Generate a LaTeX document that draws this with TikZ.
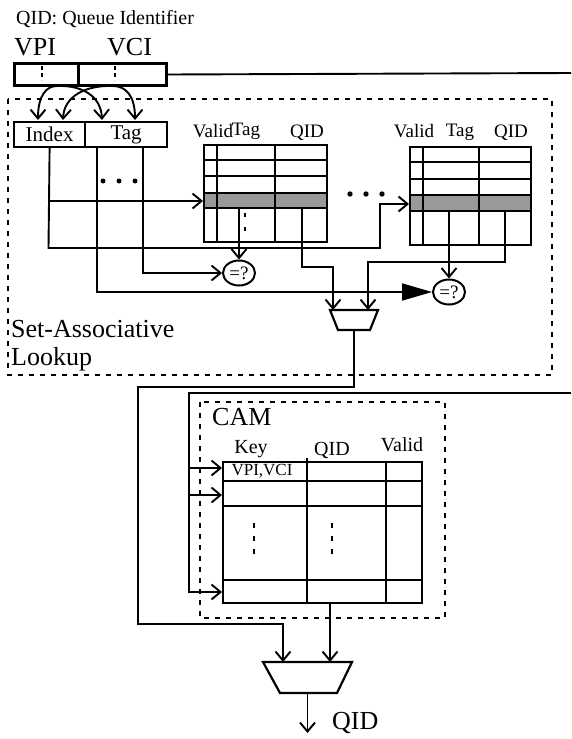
\documentclass[tikz,border=0pt]{standalone}
\usepackage{fontspec}
\setmainfont{Liberation Serif}
\usetikzlibrary{arrows.meta,shapes.geometric,calc}
\begin{document}
\begin{tikzpicture}[x=1pt,y=-1pt,
  wire/.style={line width=1.9pt},
  barb/.style={-{Straight Barb[length=9pt,width=15pt]}},
  tri/.style={-{Triangle[length=30pt,width=17pt]}},
  tblbox/.style={draw,line width=2.2pt,inner sep=0pt,anchor=north west},
  tline/.style={line width=2pt},
  shaded/.style={fill=black!40},
  reg/.style={draw,line width=3pt,inner sep=0pt,minimum height=22,anchor=north west},
  cellbox/.style={draw,line width=2.2pt,inner sep=0pt,minimum height=25,anchor=north west,font=\fontsize{21}{22}\selectfont},
  dbox/.style={line width=2pt,dash pattern=on 5pt off 6pt},
  big/.style={inner sep=0pt,anchor=base west,font=\fontsize{26}{28}\selectfont},
  hdr/.style={inner sep=0pt,anchor=base,font=\fontsize{19}{21}\selectfont},
  cmp/.style={ellipse,draw,line width=2pt,minimum width=32,minimum height=25,inner sep=0pt,font=\fontsize{19}{19}\selectfont},
  muxline/.style={line width=2.2pt,line join=miter}
]
\useasboundingbox (0,0) rectangle (571,739);

% ---------- title and register ----------
\node[inner sep=0pt,anchor=base west,font=\fontsize{20}{22}\selectfont] (title) at (16,24) {QID: Queue Identifier};
\node[big] (vpil) at (14,55) {VPI};
\node[big] (vcil) at (107,55) {VCI};
\node[reg,minimum width=64] (vpi) at (13,62) {};
\node[reg,minimum width=88] (vci) at (77,62) {};
\draw[line width=2pt,dash pattern=on 4pt off 3pt] (42,66) -- (42,80);
\draw[line width=2pt,dash pattern=on 4pt off 3pt] (115,66) -- (115,80);
\coordinate (regout) at (571,73);
\draw[wire] (vci.east) -- (regout);

% ---------- big dashed box ----------
\draw[dbox] (8,99) rectangle (552,375);
\node[big] (sal1) at (11,337) {Set-Associative};
\node[big] (sal2) at (11,365) {Lookup};

% ---------- index / tag ----------
\node[cellbox,minimum width=71] (index) at (13,121) {Index};
\node[cellbox,minimum width=82] (tag) at (84,121) {Tag};

\coordinate (s1) at (57,86);
\coordinate (s2) at (113,86);
\coordinate (e1) at (38,120);
\coordinate (e2) at (63,120);
\coordinate (e3) at (102,120);
\coordinate (e4) at (135,120);
\draw[wire,barb] (s1) .. controls (46,86) and (38,96) .. (e1);
\draw[wire,barb] (s1) .. controls (82,85) and (101,96) .. (e3);
\draw[wire,barb] (s2) .. controls (86,85) and (64,96) .. (e2);
\draw[wire,barb] (s2) .. controls (126,86) and (135,96) .. (e4);

% ---------- table 1 ----------
\fill[shaded] (203,193) rectangle (326,208);
\node[tblbox,minimum width=123,minimum height=97] (t1) at (203,144) {};
\foreach \yy in {160,176,193,208} \draw[tline] (203,\yy) -- (326,\yy);
\draw[tline] (217,144) -- (217,241);
\draw[tline] (275,144) -- (275,241);
\fill (243.5,213) rectangle (246,217);
\fill (243.5,227) rectangle (246,231);
\node[hdr] (h1v) at (213,137) {Valid};
\node[hdr] (h1t) at (246,135) {Tag};
\node[hdr] (h1q) at (307,137) {QID};

% ---------- table 2 ----------
\fill[shaded] (409,195) rectangle (530,211);
\node[tblbox,minimum width=121,minimum height=98] (t2) at (409,146) {};
\foreach \yy in {162,179,195,211} \draw[tline] (409,\yy) -- (530,\yy);
\draw[tline] (423,146) -- (423,244);
\draw[tline] (479,146) -- (479,244);
\node[hdr] (h2v) at (414,137) {Valid};
\node[hdr] (h2t) at (460,136) {Tag};
\node[hdr] (h2q) at (511,137) {QID};

% dots
\foreach \xx in {103,119,135} \fill (\xx,181) circle (2.5);
\foreach \xx in {350,366,382} \fill (\xx,194) circle (2.7);

% ---------- comparators and mux ----------
\node[cmp] (cmp1) at (239,273) {=?};
\node[cmp] (cmp2) at (449,292) {=?};
\coordinate (m1tl) at (330,310);
\coordinate (m1tr) at (378,310);
\coordinate (m1br) at (370,330);
\coordinate (m1bl) at (338,330);
\coordinate (m1out) at (354,330);
\draw[muxline] (m1tl) -- (m1tr) -- (m1br) -- (m1bl) -- cycle;

% ---------- connections in lookup ----------
\coordinate (ta) at (97,146);
\coordinate (tb) at (143,146);
\coordinate (t1row) at (203,201);
\coordinate (t2row) at (409,204);
\coordinate (t1t) at (239,208);
\coordinate (t1q) at (302,208);
\coordinate (t2t) at (449,211);
\coordinate (t2q) at (505,211);
\coordinate (m1a) at (333,310);
\coordinate (m1b) at (368,310);

\draw[wire,barb] (index.south) -- (48.5,248) -- (380,248) -- (380,204) -- (t2row);
\draw[wire,barb] (48.5,201) -- (t1row);
\draw[wire,barb] (tb) -- (143,273) -- (cmp1.west);
\draw[wire,tri] (ta) -- (97,292) -- (cmp2.west);
\draw[wire,barb] (t1t) -- (cmp1.north);
\draw[wire,barb] (t2t) -- (cmp2.north);
\draw[wire,barb] (t1q) -- (302,267) -- (333,267) -- (m1a);
\draw[wire,barb] (t2q) -- (505,262) -- (368,262) -- (m1b);

% ---------- CAM ----------
\draw[dbox] (200,402) rectangle (445,618);
\node[big] (camlbl) at (212,425) {CAM};
\node[tblbox,minimum width=199,minimum height=141] (cam) at (222,461) {};
\foreach \yy in {481,506,580} \draw[tline] (222,\yy) -- (421,\yy);
\draw[tline] (307,458) -- (307,602);
\draw[tline] (386,461) -- (386,602);
\node[inner sep=0pt,font=\fontsize{17}{18}\selectfont] (vv) at (262,471) {VPI,VCI};
\node[inner sep=0pt,anchor=base,font=\fontsize{20}{22}\selectfont] (ck) at (251,453) {Key};
\node[inner sep=0pt,anchor=base,font=\fontsize{20}{22}\selectfont] (cq) at (332,455) {QID};
\node[inner sep=0pt,anchor=base,font=\fontsize{20}{22}\selectfont] (cv) at (402,451) {Valid};
\foreach \xx in {254,332} {
  \fill (\xx-1.2,523) rectangle (\xx+1.2,528);
  \fill (\xx-1.2,536) rectangle (\xx+1.2,541);
  \fill (\xx-1.2,549) rectangle (\xx+1.2,554);
}

\coordinate (camin) at (571,393);
\coordinate (c1) at (222,468);
\coordinate (c2) at (222,495);
\coordinate (c3) at (222,592);
\draw[wire,barb] (camin) -- (189,393) -- (189,592) -- (c3);
\draw[wire,barb] (189,468) -- (c1);
\draw[wire,barb] (189,495) -- (c2);

% ---------- final mux ----------
\coordinate (m2tl) at (263,662);
\coordinate (m2tr) at (352,662);
\coordinate (m2br) at (337,693);
\coordinate (m2bl) at (280,693);
\coordinate (m2out) at (307.5,693);
\draw[muxline] (m2tl) -- (m2tr) -- (m2br) -- (m2bl) -- cycle;
\coordinate (m2a) at (283,662);
\coordinate (m2b) at (330,662);
\coordinate (camq) at (330,602);
\coordinate (qout) at (307.5,733);
\draw[wire,barb] (m1out) -- (354,387) -- (138,387) -- (138,624) -- (283,624) -- (m2a);
\draw[wire,barb] (camq) -- (m2b);
\draw[wire,barb] (m2out) -- (qout);
\node[big] (qidl) at (332,729) {QID};
\end{tikzpicture}
\end{document}
